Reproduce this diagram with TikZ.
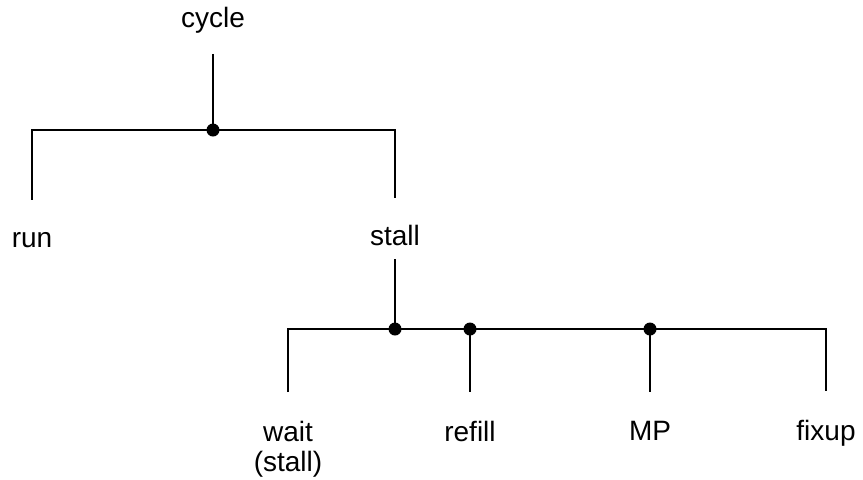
\documentclass[tikz,border=0pt]{standalone}
\usepackage{fontspec}
\setmainfont{Liberation Sans}
\usetikzlibrary{positioning}

\begin{document}
\begin{tikzpicture}[
      x=0.5pt, y=-0.5pt,
      lbl/.style={inner sep=0pt, font=\fontsize{14}{15.2}\selectfont, align=center},
      dot/.style={circle, fill=black, inner sep=0pt, minimum size=6.5pt},
      line width=1pt]
    \useasboundingbox (0,0) rectangle (863,479);
    % labels
    \node[lbl, anchor=base] (cycle) at (213,27) {cycle};
    \node[lbl, anchor=base] (run) at (32,247) {run};
    \node[lbl, anchor=base] (stall) at (395,245) {stall};
    \node[lbl, anchor=north] (wait) at (288,420) {wait\\(stall)};
    \node[lbl, anchor=base] (refill) at (470,441) {refill};
    \node[lbl, anchor=base] (mp) at (650,440) {MP};
    \node[lbl, anchor=base] (fixup) at (826,440) {fixup};
    % junctions
    \node[dot] (rootdot) at (213,130) {};
    \node[dot] (stalldot) at (395,329) {};
    \node[dot] (refilldot) at (470,329) {};
    \node[dot] (mpdot) at (650,329) {};
    % upper level
    \draw ([yshift=-10pt]cycle.south) -- (rootdot.center);
    \draw ([yshift=15.5pt]run.north) |- (rootdot.center) -| ([yshift=13pt]stall.north);
    % lower level
    \draw ([yshift=-6.5pt]stall.south) -- (stalldot.center);
    \draw ([yshift=14pt]wait.north) |- (stalldot.center) -- (mpdot.center) -| ([yshift=14pt]fixup.north);
    \draw (refilldot.center) -- ([yshift=14pt]refill.north);
    \draw (mpdot.center) -- ([yshift=14pt]mp.north);
  \end{tikzpicture}
\end{document}
